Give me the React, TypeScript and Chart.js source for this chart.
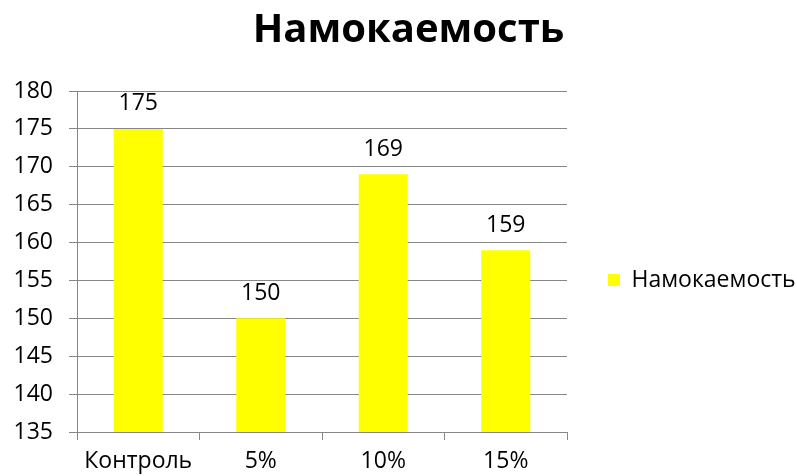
import React, { useEffect, useRef } from "react";
import { Chart, registerables } from "chart.js";

Chart.register(...registerables);

const TITLE = "Намокаемость";
const SERIES_NAME = "Намокаемость";
const categories = ["Контроль", "5%", "10%", "15%"];
const values = [175, 150, 169, 159];
const Y_MIN = 135;
const Y_MAX = 180;
const Y_STEP = 5;

const FONT = "'Open Sans', 'Liberation Sans', sans-serif";
const GRID = "#878787";
const FS = 23;

const dataLabels = {
  id: "dataLabels",
  afterDatasetsDraw(chart: any) {
    const ctx = chart.ctx;
    const meta = chart.getDatasetMeta(0);
    ctx.save();
    ctx.font = `${FS}px ${FONT}`;
    ctx.fillStyle = "#000";
    ctx.textAlign = "center";
    ctx.textBaseline = "middle";
    meta.data.forEach((bar: any, i: number) => {
      ctx.fillText(String(values[i]), bar.x, bar.y - 25);
    });
    ctx.restore();
  },
};

const layoutTweaks = {
  id: "layoutTweaks",
  beforeLayout(chart: any) {
    const lg = chart.legend;
    if (lg && !lg.__patched) {
      lg.__patched = true;
      const origFit = lg.fit;
      lg.fit = function (...args: any[]) {
        origFit.apply(this, args);
        this.width = 230;
      };
    }
  },
  afterLayout(chart: any) {
    const t = chart.titleBlock;
    if (t) {
      t.left += 10;
      t.right += 10;
    }
    const lg = chart.legend;
    if (lg) {
      lg.top += 42;
      lg.bottom += 42;
    }
  },
};

export default function App() {
  const ref = useRef<HTMLCanvasElement>(null);
  useEffect(() => {
    document.body.style.margin = "0";
    const chart = new Chart(ref.current!, {
      type: "bar",
      data: {
        labels: categories,
        datasets: [
          {
            label: SERIES_NAME,
            data: values,
            backgroundColor: "#FFFF00",
            borderWidth: 0,
            barPercentage: 0.4,
            categoryPercentage: 1,
          },
        ],
      },
      options: {
        animation: false,
        responsive: false,
        layout: { padding: 0 },
        plugins: {
          title: {
            display: true,
            text: TITLE,
            color: "#000",
            font: { family: FONT, size: 40, weight: "bold" },
            padding: { top: 7, bottom: 36 },
          },
          legend: {
            display: true,
            position: "right",
            labels: {
              color: "#000",
              font: { family: FONT, size: FS },
              boxWidth: 12,
              boxHeight: 12,
              padding: 41,
            },
          },
          tooltip: { enabled: false },
        },
        scales: {
          x: {
            afterFit(scale: any) {
              scale.height = 44;
            },
            grid: {
              display: true,
              offset: true,
              drawOnChartArea: false,
              drawTicks: true,
              tickLength: 8,
              color: GRID,
            },
            border: { display: true, color: GRID },
            ticks: {
              color: "#000",
              font: { family: FONT, size: FS },
              padding: 8,
              maxRotation: 0,
            },
          },
          y: {
            min: Y_MIN,
            max: Y_MAX,
            afterFit(scale: any) {
              scale.width = 77;
            },
            grid: {
              color: GRID,
              drawTicks: true,
              tickLength: 8,
            },
            border: { display: true, color: GRID },
            ticks: {
              stepSize: Y_STEP,
              color: "#000",
              font: { family: FONT, size: FS },
              padding: 16,
            },
          },
        },
      },
      plugins: [dataLabels, layoutTweaks],
    } as any);
    return () => chart.destroy();
  }, []);
  return <canvas ref={ref} width={797} height={476} />;
}
